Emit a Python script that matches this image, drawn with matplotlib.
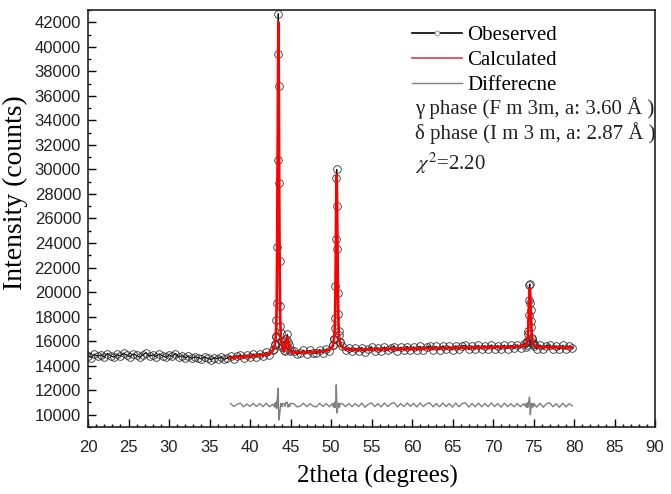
import numpy as np
import matplotlib
matplotlib.use("Agg")
import matplotlib.pyplot as plt
from matplotlib.lines import Line2D
from matplotlib.ticker import MultipleLocator

plt.rcParams['mathtext.fontset'] = 'stix'

# --- data (2theta segments, intensity in counts) ---
# seg 1: 20.0 -> 37.2, observed only
obs_1 = [14820, 14650, 14930, 14760, 14880, 14700, 14990, 14810, 14690, 14920,
         14780, 15010, 14850, 14720, 14960, 14830, 14690, 14900, 15050, 14770,
         14880, 14740, 14950, 14820, 14680, 14870, 14760, 14990, 14700, 14810,
         14640, 14780, 14590, 14720, 14660, 14540, 14700, 14600, 14490, 14650,
         14560, 14700, 14520, 14620]
# seg 2: 37.6 -> 42.8
obs_2 = [14790, 14560, 14760, 14880, 14600, 14850, 14680, 14950, 14720, 14990,
         14760, 15080, 14850, 15300]
calc_2 = [14650, 14670, 14690, 14710, 14730, 14750, 14780, 14800, 14830, 14850,
          14880, 14920, 14980, 15220]
# seg 3: 43.00 -> 44.00, gamma (111)
obs_3 = [15400, 15800, 15700, 16300, 16400, 17700, 19100, 23700, 30800, 39400,
         42700, 36800, 28900, 22500, 18900, 17200, 16700, 16000, 15950, 15550,
         15650]
calc_3 = [15520, 15660, 15840, 16110, 16560, 17450, 19370, 23290, 30100, 38000,
          42000, 38000, 30100, 23290, 19370, 17450, 16560, 16110, 15840, 15660,
          15520]
# seg 4: 44.2 -> 45.0, delta (110)
obs_4 = [15250, 15200, 15800, 16200, 16550, 15900, 15650, 15200, 15300]
calc_4 = [15150, 15300, 15600, 16050, 16300, 16050, 15600, 15300, 15150]
# seg 5: 45.4 -> 50.2
obs_5 = [15180, 14940, 15010, 15260, 14990, 15240, 15050, 15000, 15310, 15060,
         15330, 15210, 15660]
calc_5 = [15060, 15080, 15090, 15100, 15110, 15120, 15130, 15140, 15150, 15170,
          15200, 15330, 15520]
# seg 6: 50.30 -> 51.10, gamma (200)
obs_6 = [15700, 16200, 16200, 17100, 17850, 20500, 24300, 29300, 30000, 27000,
         23500, 19950, 18200, 16800, 16500, 15900, 15950]
calc_6 = [15840, 16060, 16340, 16920, 18060, 20200, 23780, 27640, 29500, 27640,
          23780, 20200, 18060, 16920, 16340, 16060, 15840]
# seg 7: 51.4 -> 73.8
obs_7 = [15600, 15250, 15450, 15180, 15420, 15200, 15480, 15150, 15400, 15510,
         15220, 15460, 15200, 15530, 15240, 15480, 15560, 15230, 15500, 15260,
         15560, 15290, 15540, 15250, 15580, 15300, 15530, 15610, 15290, 15570,
         15300, 15620, 15320, 15580, 15290, 15630, 15330, 15600, 15660, 15320,
         15610, 15350, 15660, 15370, 15630, 15380, 15690, 15390, 15640, 15360,
         15680, 15400, 15650, 15410, 15700, 15460, 15750]
calc_7 = [15480, 15380, 15320, 15300, 15300, 15310, 15310, 15320, 15320, 15330,
          15330, 15340, 15340, 15350, 15350, 15360, 15360, 15370, 15370, 15380,
          15380, 15390, 15390, 15400, 15400, 15410, 15410, 15420, 15420, 15430,
          15430, 15440, 15440, 15450, 15450, 15460, 15460, 15470, 15470, 15480,
          15480, 15490, 15490, 15500, 15500, 15500, 15510, 15510, 15510, 15520,
          15520, 15520, 15530, 15540, 15560, 15590, 15630]
# seg 8: 74.05 -> 75.05, gamma (220)
obs_8 = [15550, 15850, 15650, 16050, 15900, 16600, 16850, 18150, 19350, 20570,
         20650, 19130, 18500, 17650, 17150, 16280, 16200, 15750, 15900, 15600,
         15800]
calc_8 = [15670, 15720, 15790, 15890, 16080, 16420, 17000, 17875, 18940, 19910,
          20300, 19910, 18940, 17875, 17000, 16420, 16080, 15890, 15790, 15720,
          15670]
# seg 9: 75.4 -> 79.8
obs_9 = [15400, 15690, 15350, 15640, 15700, 15380, 15620, 15330, 15660, 15350,
         15610, 15420]
calc_9 = [15560, 15530, 15520, 15520, 15510, 15510, 15500, 15500, 15500, 15490,
          15490, 15480]

seg_ranges = [(20.0, 37.2), (37.6, 42.8), (43.0, 44.0), (44.2, 45.0), (45.4, 50.2),
              (50.3, 51.1), (51.4, 73.8), (74.05, 75.05), (75.4, 79.8)]
obs_segs = [obs_1, obs_2, obs_3, obs_4, obs_5, obs_6, obs_7, obs_8, obs_9]
calc_segs = [None, calc_2, calc_3, calc_4, calc_5, calc_6, calc_7, calc_8, calc_9]
diff_offset = 10780

legend_labels = ['Obeserved', 'Calculated', 'Differecne']
phase_lines = ['\u03b3 phase (F m 3m, a: 3.60 \u00c5 )',
               '\u03b4 phase (I m 3 m, a: 2.87 \u00c5 )',
               r'$\chi^{2}$=2.20']

# --- assemble ---
theta_obs, y_obs, theta_calc, y_calc, y_c_obs = [], [], [], [], []
for (a, b), o, c in zip(seg_ranges, obs_segs, calc_segs):
    t = np.linspace(a, b, len(o))
    theta_obs.append(t)
    y_obs.append(np.array(o))
    if c is not None:
        theta_calc.append(t)
        y_calc.append(np.array(c))
        y_c_obs.append(np.array(o))
theta_obs = np.concatenate(theta_obs)
y_obs = np.concatenate(y_obs)
theta_calc = np.concatenate(theta_calc)
y_calc = np.concatenate(y_calc)
y_diff = np.concatenate(y_c_obs) - y_calc + diff_offset

# --- plot ---
fig = plt.figure(figsize=(6.71, 4.94), dpi=100)
ax = fig.add_axes([88 / 671, 67 / 494, 567 / 671, 417 / 494])

ax.plot(theta_obs, y_obs, color='black', lw=0.9, marker='o', mfc='none',
        mec='#333333', ms=5.5, mew=0.6, zorder=2)
ax.plot(theta_calc, y_calc, color='red', lw=1.9, zorder=3)
ax.plot(theta_calc, y_diff, color='#808080', lw=1.0, zorder=2)

ax.set_xlim(20, 90)
ax.set_ylim(9000, 43000)
ax.xaxis.set_major_locator(MultipleLocator(5))
ax.xaxis.set_minor_locator(MultipleLocator(1))
ax.yaxis.set_major_locator(MultipleLocator(2000))
ax.yaxis.set_minor_locator(MultipleLocator(1000))
ax.tick_params(which='both', direction='in', top=False, right=False,
               labelsize=12, labelcolor='#222222', width=1)
ax.tick_params(which='major', length=5.5)
ax.tick_params(which='minor', length=2.5)
ax.tick_params(axis='x', which='major', pad=9)
ax.tick_params(axis='y', which='major', pad=5)
for lab in ax.get_xticklabels() + ax.get_yticklabels():
    lab.set_fontfamily('Liberation Sans')
for s in ax.spines.values():
    s.set_linewidth(1.2)
    s.set_color('#222222')

ax.set_xlabel('2theta (degrees)', fontsize=18, family='Liberation Serif')
ax.set_ylabel('Intensity (counts)', fontsize=20, family='Liberation Serif')
ax.xaxis.set_label_coords(0.51, -0.09)
ax.yaxis.set_label_coords(-0.105, 0.561)

handles = [Line2D([], [], color='black', lw=1.2, marker='o', ms=3.5, mfc='white',
                  mec='#888888', mew=0.6),
           Line2D([], [], color='#dd3a55', lw=1.2),
           Line2D([], [], color='#808080', lw=1.0)]
leg = ax.legend(handles, legend_labels, loc='upper left', bbox_to_anchor=(0.572, 0.963),
                frameon=False, prop={'family': 'Liberation Serif', 'size': 15},
                handlelength=2.4, handletextpad=0.25, labelspacing=0.27,
                borderpad=0, borderaxespad=0)
for i, txt in enumerate(phase_lines):
    ax.text(0.577, 0.765 - 0.06 * i - (0.012 if i == 2 else 0), txt,
            transform=ax.transAxes, ha='left', va='center', fontsize=15,
            family='Liberation Serif', color='#222222')

fig.savefig('out.png', dpi=100)
